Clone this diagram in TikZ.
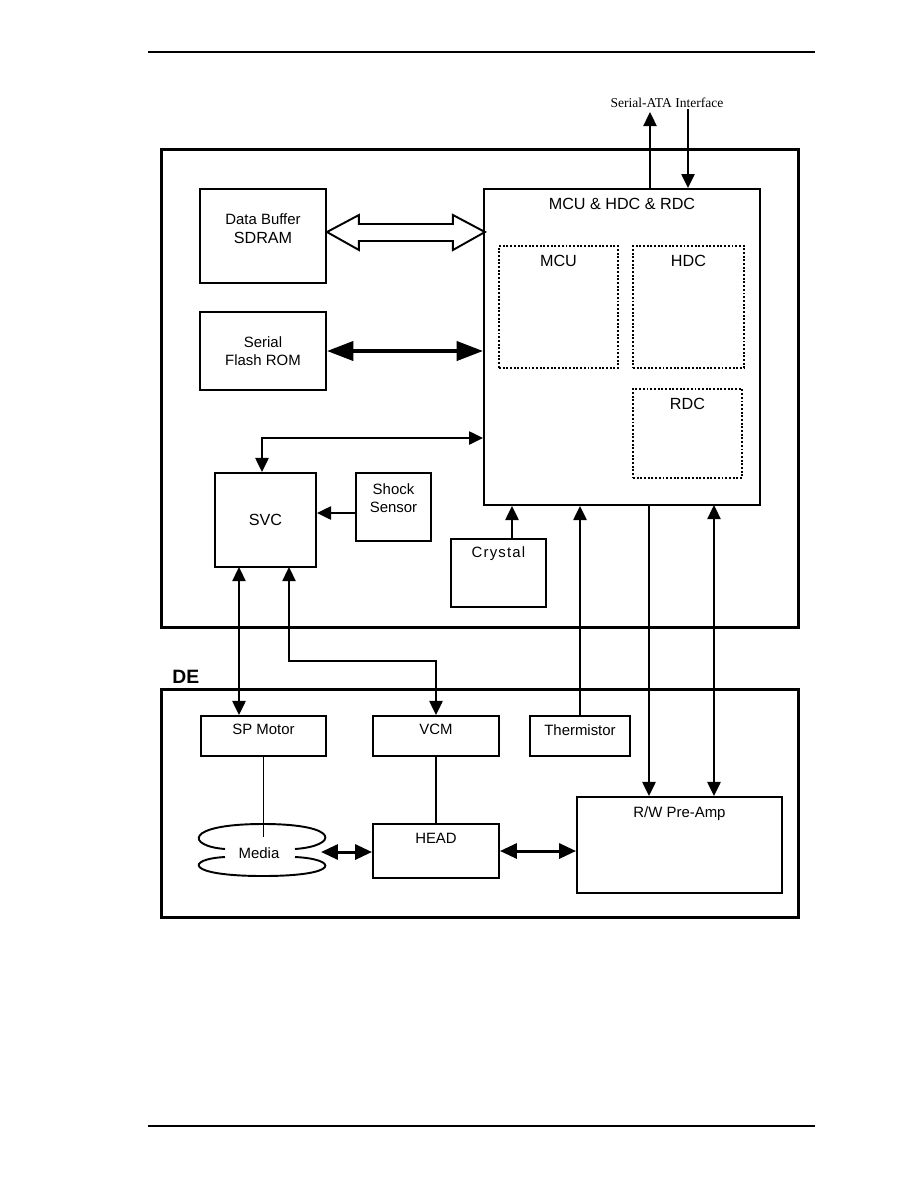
\documentclass[tikz,border=0pt]{standalone}
\usepackage{fontspec}
\setmainfont{Liberation Sans}
\newfontfamily\satafont{Liberation Serif}
\usepackage{tikz}
\usetikzlibrary{
    arrows.meta,
    positioning
}

\newcommand\titlefont{\fontsize{9.2}{11}\selectfont}
\newcommand\boxfont{\fontsize{8.5}{10.2}\selectfont}

\begin{document}
\begin{tikzpicture}[x=0.02cm,y=-0.02cm,
    >={Triangle[length=8pt,width=7.5pt]},
    box/.style={draw,line width=1.1pt,inner sep=0pt},
    frame/.style={draw,line width=1.7pt,inner sep=0pt},
    subblk/.style={draw,line width=1.2pt,dash pattern=on 1.1pt off 1pt,inner sep=0pt},
    lbl/.style={inner sep=0pt,font=\titlefont},
    sig/.style={line width=1.1pt}
]
\useasboundingbox (0,0) rectangle (918,1188);

% Page rules
\draw[line width=1.1pt] (148,52) -- (815,52);
\draw[line width=1.1pt] (148,1126) -- (815,1126);

% PCB and DE frames
\node[frame,minimum width=12.76cm,minimum height=9.58cm] (pcb) at (480,388.5) {};
\node[frame,minimum width=12.76cm,minimum height=4.58cm] (de) at (480,803.5) {};
\node[inner sep=0pt,anchor=base west,font=\bfseries\fontsize{11}{13}\selectfont] (deT) at (172,683) {DE};

% Memories
\node[box,minimum width=2.52cm,minimum height=1.88cm] (sdram) at (263,236) {};
\node[lbl,align=center] (sdramT) at ([yshift=4pt]sdram.center) {{\boxfont Data Buffer}\\SDRAM};
\node[box,minimum width=2.52cm,minimum height=1.56cm,align=center,font=\boxfont] (flash) at (263,351) {Serial\\Flash ROM};

% Controller chip
\node[box,minimum width=5.52cm,minimum height=6.32cm] (mcu) at (622,347) {};
\node[lbl,below=5.6pt of mcu.north] (mcuT) {MCU \& HDC \& RDC};
\node[subblk,minimum width=2.38cm,minimum height=2.44cm] (mcuin) at (558.5,307) {};
\node[lbl,below=5.6pt of mcuin.north] (mcuinT) {MCU};
\node[subblk,minimum width=2.22cm,minimum height=2.44cm] (hdc) at (688.5,307) {};
\node[lbl,below=5.6pt of hdc.north] (hdcT) {HDC};
\node[subblk,minimum width=2.18cm,minimum height=1.78cm] (rdc) at (687.5,433.5) {};
\node[lbl,below=5.6pt of rdc.north] (rdcT) {RDC};

% Servo side
\node[box,minimum width=2.02cm,minimum height=1.88cm,font=\titlefont] (svc) at (265.5,520) {SVC};
\node[box,minimum width=1.5cm,minimum height=1.36cm] (shock) at (393.5,507) {};
\node[lbl,align=center,font=\boxfont] (shockT) at ([yshift=5pt]shock.center) {Shock\\Sensor};
\node[box,minimum width=1.9cm,minimum height=1.36cm] (crystal) at (498.5,573) {};
\node[lbl,below=4.6pt of crystal.north,font=\boxfont\addfontfeatures{LetterSpace=8}] (crystalT) {Crystal};

% Host interface
\node[inner sep=0pt,font=\satafont\fontsize{7.7}{9}\selectfont] (sata) at (667,103) {Serial-ATA Interface};
\coordinate (sataOut) at (650,112);
\coordinate (sataIn) at (688,109);
\draw[sig,->] (mcu.north -| sataOut) -- (sataOut);
\draw[sig,->] (sataIn) -- (sataIn |- mcu.north);

% Drive enclosure parts
\node[box,minimum width=2.5cm,minimum height=0.8cm] (spm) at (263.5,736) {};
\node[lbl,below=5pt of spm.north,font=\boxfont] (spmT) {SP Motor};
\node[box,minimum width=2.52cm,minimum height=0.8cm] (vcm) at (436,736) {};
\node[lbl,below=5pt of vcm.north,font=\boxfont] (vcmT) {VCM};
\node[box,minimum width=2.0cm,minimum height=0.8cm] (therm) at (580,736) {};
\node[lbl,below=5pt of therm.north,font=\boxfont] (thermT) {Thermistor};
\node[box,minimum width=2.52cm,minimum height=1.08cm] (head) at (436,851) {};
\node[lbl,below=5.6pt of head.north,font=\boxfont] (headT) {HEAD};
\node[box,minimum width=4.1cm,minimum height=1.92cm] (pre) at (679.5,845) {};
\node[lbl,below=5.6pt of pre.north,font=\boxfont] (preT) {R/W Pre-Amp};

% Media (disk stack)
\draw[sig] (225,849) .. controls (186,846) and (184,824) .. (263,824) .. controls (342,824) and (338,846) .. (295,849);
\draw[sig] (295,857) .. controls (338,859) and (342,876) .. (263,876) .. controls (184,876) and (186,859) .. (225,857);
\node[lbl,font=\boxfont] (media) at (259,853) {Media};
\coordinate (mediaTop) at (263.5,837);
\coordinate (mediaR) at (321,852);

% Data paths to the controller
\begin{scope}[shift={(sdram.east)}]
\draw[sig,line join=miter] (0,-4) -- (32,-21) -- (32,-12) -- (126,-12) -- (126,-21) -- (158,-4)
    -- (126,14) -- (126,5) -- (32,5) -- (32,14) -- cycle;
\end{scope}
\draw[line width=2.2pt,{Triangle[length=15pt,width=10.8pt]}-{Triangle[length=15pt,width=10.8pt]}]
    (flash.east) -- (flash.east -| mcu.west);

% Servo connections
\coordinate (svcBus) at (262,438);
\draw[sig,<->] (mcu.west |- svcBus) -- (svcBus) -- (svcBus |- svc.north);
\coordinate (shk) at (356,513);
\draw[sig,->] (shk) -- (shk -| svc.east);
\coordinate (xtal) at (512,539);
\draw[sig,->] (xtal) -- (xtal |- mcu.south);
\draw[sig,->] (therm.north) -- (therm.north |- mcu.south);

% SVC to motors
\coordinate (spA) at (239,567);
\draw[sig,<->] (spA) -- (spA |- spm.north);
\coordinate (vcA) at (289,567);
\coordinate (vcB) at (289,661);
\draw[sig,<->] (vcA) -- (vcB) -| (vcm.north);

% Read channel
\coordinate (rdA) at (649,505);
\coordinate (rdB) at (714,505);
\draw[sig,->] (rdA) -- (rdA |- pre.north);
\draw[sig,<->] (rdB) -- (rdB |- pre.north);

% Inside the enclosure
\draw[sig] (spm.south) -- (mediaTop);
\draw[sig] (vcm.south) -- (head.north);
\draw[line width=1.7pt,{Triangle[length=9.6pt,width=8.5pt]}-{Triangle[length=9.6pt,width=8.5pt]}]
    (mediaR) -- (mediaR -| head.west);
\draw[line width=1.7pt,{Triangle[length=9.6pt,width=8.5pt]}-{Triangle[length=9.6pt,width=8.5pt]}]
    (head.east) -- (head.east -| pre.west);

\end{tikzpicture}
\end{document}
